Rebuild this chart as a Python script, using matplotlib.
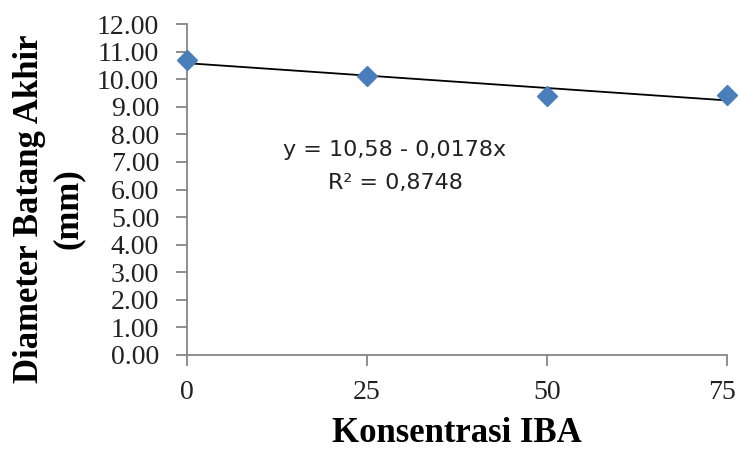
import matplotlib
matplotlib.use('Agg')

import matplotlib.pyplot as plt
import matplotlib.transforms as mtransforms
import numpy as np

# Data
konsentrasi = [0, 25, 50, 75]
diameter = [10.70, 10.10, 9.38, 9.44]
yticks = [0, 1, 2, 3, 4, 5, 6, 7, 8, 9, 10, 11, 12]
xticks = [0, 25, 50, 75]

# Trendline (linear)
slope, intercept = np.polyfit(konsentrasi, diameter, 1)
xfit = np.array([0, 75])
yfit = intercept + slope * xfit

fig = plt.figure(figsize=(7.39, 4.51), dpi=100)
ax = fig.add_axes([187 / 739, 1 - 355 / 451, 540 / 739, 331 / 451])

ax.plot(xfit, yfit, color='black', linewidth=1.3, zorder=2)
ax.plot(konsentrasi, diameter, linestyle='none', marker='D', markersize=10,
        color='#4a7ebb', markeredgecolor='#4a7ebb', zorder=3, clip_on=False)

ax.set_xlim(0, 75)
ax.set_ylim(0, 12)
ax.set_xticks(xticks)
ax.set_xticklabels([str(v) for v in xticks])
ax.set_yticks(yticks)
ax.set_yticklabels(['%.2f' % v for v in yticks])

for s in ['top', 'right']:
    ax.spines[s].set_visible(False)
for s in ['left', 'bottom']:
    ax.spines[s].set_color('#868686')
    ax.spines[s].set_linewidth(1.3)

ax.tick_params(axis='both', direction='out', length=8, width=1.3, color='#868686',
               labelsize=20, pad=12)
ax.tick_params(axis='x', pad=10)
for lab in ax.get_xticklabels() + ax.get_yticklabels():
    lab.set_family('Liberation Serif')
    lab.set_color('#222222')

# geser label "75" sedikit ke kiri supaya tidak terpotong
last = ax.get_xticklabels()[-1]
last.set_transform(last.get_transform() + mtransforms.ScaledTranslation(-5 / 100, 0, fig.dpi_scale_trans))

# Judul sumbu
fig.text(30 / 739, 1 - 209 / 451, 'Diameter Batang Akhir', rotation=90, ha='center', va='center',
         fontsize=25, fontweight='bold', family='Liberation Serif')
fig.text(68 / 739, 1 - 209 / 451, '(mm)', rotation=90, ha='center', va='center',
         fontsize=25, fontweight='bold', family='Liberation Serif')
fig.text(457 / 739, 1 - 434 / 451, 'Konsentrasi IBA', ha='center', va='center',
         fontsize=25, fontweight='bold', family='Liberation Serif')

# Persamaan regresi
fig.text(395 / 739, 1 - 150 / 451, 'y = 10,58 - 0,0178x', ha='center', va='center',
         fontsize=16, family='DejaVu Sans', color='#222222')
fig.text(395 / 739, 1 - 183 / 451, 'R² = 0,8748', ha='center', va='center',
         fontsize=16, family='DejaVu Sans', color='#222222')

fig.savefig('out.png', dpi=100)
